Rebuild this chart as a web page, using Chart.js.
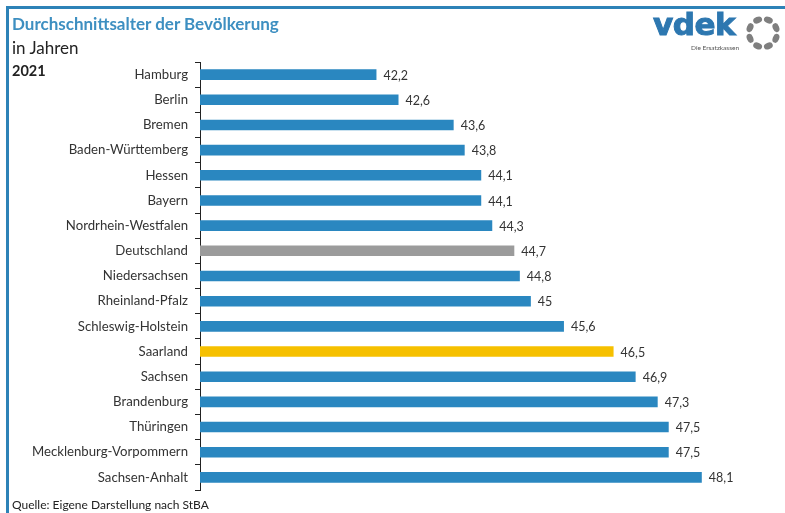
<!DOCTYPE html>
<html lang="de">
<head>
<meta charset="utf-8">
<script src="https://cdn.jsdelivr.net/npm/chart.js@4/dist/chart.umd.min.js"></script>
<style>
  html, body { margin: 0; padding: 0; background: #fff; }
  #wrap { position: relative; width: 785px; height: 513px; overflow: hidden; font-family: "Lato", sans-serif; }
  #frame { position: absolute; left: 6px; top: 6px; width: 790px; height: 520px; border-left: 3px solid #2d82b7; border-top: 3px solid #2d82b7; }
  canvas { position: absolute; left: 0; top: 0; }
  .txt { position: absolute; white-space: nowrap; }
  #title { left: 12px; top: 13px; font-size: 17px; font-weight: 700; color: #3d8fc1; }
  #unit { left: 12px; top: 37px; font-size: 17px; color: #222; }
  #year { left: 12px; top: 62px; font-size: 14.5px; font-weight: 700; color: #222; }
  #source { left: 12px; top: 497px; font-size: 12px; color: #222; }
  #logo { left: 653px; top: 6px; line-height: 36px; font-size: 31px; font-weight: 900; color: #2d77b0; letter-spacing: -0.5px; font-family: "DejaVu Sans", sans-serif; -webkit-text-stroke: 1px #2d77b0; }
  #claim { left: 691px; top: 44px; font-size: 6.5px; color: #555; }
  #dots { position: absolute; left: 744px; top: 14px; }
</style>
</head>
<body>
<div id="wrap">
  <div id="frame"></div>
  <canvas id="chart" width="785" height="513"></canvas>
  <div class="txt" id="title">Durchschnittsalter der Bevölkerung</div>
  <div class="txt" id="unit">in Jahren</div>
  <div class="txt" id="year">2021</div>
  <div class="txt" id="source">Quelle: Eigene Darstellung nach StBA</div>
  <div class="txt" id="logo">vdek</div>
  <div class="txt" id="claim">Die Ersatzkassen</div>
  <svg id="dots" width="38" height="38" viewBox="0 0 38 38"></svg>
</div>
<script>
// Daten
const laender = ["Hamburg", "Berlin", "Bremen", "Baden-Württemberg", "Hessen", "Bayern",
  "Nordrhein-Westfalen", "Deutschland", "Niedersachsen", "Rheinland-Pfalz", "Schleswig-Holstein",
  "Saarland", "Sachsen", "Brandenburg", "Thüringen", "Mecklenburg-Vorpommern", "Sachsen-Anhalt"];
const alter = [42.2, 42.6, 43.6, 43.8, 44.1, 44.1, 44.3, 44.7, 44.8, 45, 45.6, 46.5, 46.9, 47.3, 47.5, 47.5, 48.1];
const achseMin = 39;
const achseMax = 49.5;

// Farben je nach Land
const farben = laender.map(l => {
  if (l === "Deutschland") return "#9b9b9b";
  if (l === "Saarland") return "#f6c000";
  return "#2a87c0";
});

// Logo-Punkte
const svg = document.getElementById("dots");
for (let i = 0; i < 8; i++) {
  const a = i * Math.PI / 4 + Math.PI / 8;
  const cx = 19 + Math.cos(a) * 14, cy = 19 + Math.sin(a) * 14;
  const el = document.createElementNS("http://www.w3.org/2000/svg", "ellipse");
  el.setAttribute("cx", cx); el.setAttribute("cy", cy);
  el.setAttribute("rx", 4.6); el.setAttribute("ry", 3.2);
  el.setAttribute("fill", "#7f7f7f");
  el.setAttribute("transform", `rotate(${a * 180 / Math.PI + 90} ${cx} ${cy})`);
  svg.appendChild(el);
}

// Wertebeschriftung am Balkenende
const wertePlugin = {
  id: "werte",
  afterDatasetsDraw(chart) {
    const ctx = chart.ctx;
    const meta = chart.getDatasetMeta(0);
    ctx.save();
    ctx.font = "12.5px Lato";
    ctx.fillStyle = "#333";
    ctx.textBaseline = "middle";
    meta.data.forEach((bar, i) => {
      ctx.fillText(String(alter[i]).replace(".", ","), bar.x + 7, bar.y + 1);
    });
    ctx.restore();
  }
};

new Chart(document.getElementById("chart"), {
  type: "bar",
  data: {
    labels: laender,
    datasets: [{
      data: alter,
      backgroundColor: farben,
      barPercentage: 0.42,
      categoryPercentage: 1,
      borderWidth: 0
    }]
  },
  options: {
    indexAxis: "y",
    responsive: false,
    animation: false,
    layout: { padding: { top: 62, bottom: 23, left: 0, right: 6 } },
    plugins: { legend: { display: false }, tooltip: { enabled: false } },
    scales: {
      x: { display: false, min: achseMin, max: achseMax },
      y: {
        afterFit(scale) { scale.width = 200; },
        border: { display: true, color: "#222", width: 1 },
        grid: { offset: true, drawOnChartArea: false, tickLength: 5, color: "#222", tickWidth: 1 },
        ticks: { color: "#333", font: { family: "Lato", size: 13.2 }, padding: 7 }
      }
    }
  },
  plugins: [wertePlugin]
});
</script>
</body>
</html>
